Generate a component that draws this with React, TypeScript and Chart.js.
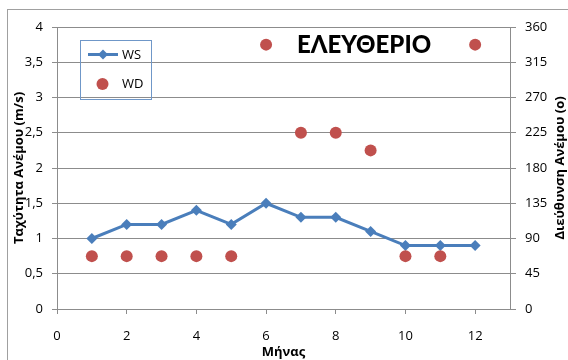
import React, { useEffect, useRef } from "react";
import { Chart, registerables } from "chart.js";

Chart.register(...registerables);

const months = [1, 2, 3, 4, 5, 6, 7, 8, 9, 10, 11, 12];
const wsValues = [1, 1.2, 1.2, 1.4, 1.2, 1.5, 1.3, 1.3, 1.1, 0.9, 0.9, 0.9];
const wdValues = [67.5, 67.5, 67.5, 67.5, 67.5, 337.5, 225, 225, 202.5, 67.5, 67.5, 337.5];
const leftTickLabels = ["0", "0,5", "1", "1,5", "2", "2,5", "3", "3,5", "4"];
const rightTickLabels = ["0", "45", "90", "135", "180", "225", "270", "315", "360"];
const xTickLabels = ["0", "2", "4", "6", "8", "10", "12"];

const chartTitle = "ΕΛΕΥΘΕΡΙΟ";
const xTitle = "Μήνας";
const leftTitle = "Ταχύτητα Ανέμου (m/s)";
const rightTitle = "Διεύθυνση Ανέμου (ο)";
const seriesNames = ["WS", "WD"];

const BLUE = "#4A7EBB";
const RED = "#C0504D";
const GRID = "#8c8c8c";
const FONT = "'Open Sans', sans-serif";

const decorPlugin = {
  id: "decor",
  beforeDraw(chart: any) {
    const ctx = chart.ctx;
    ctx.save();
    ctx.strokeStyle = "#a0a0a0";
    ctx.lineWidth = 1;
    ctx.strokeRect(7.5, 9.5, 700, 500);
    ctx.restore();
  },
  afterDraw(chart: any) {
    const ctx = chart.ctx;
    const area = chart.chartArea;
    ctx.save();
    // main title
    ctx.fillStyle = "#000";
    ctx.font = "900 24px Lato, sans-serif";
    ctx.textAlign = "left";
    ctx.textBaseline = "alphabetic";
    ctx.fillText(chartTitle, 297, 53);

    // right axis title (reads bottom to top)
    ctx.save();
    ctx.translate(560, (area.top + area.bottom) / 2);
    ctx.rotate(-Math.PI / 2);
    ctx.font = "bold 13px " + FONT;
    ctx.textAlign = "center";
    ctx.textBaseline = "middle";
    ctx.fillText(rightTitle, 0, 0);
    ctx.restore();

    // legend
    ctx.strokeStyle = "#6f97c8";
    ctx.lineWidth = 1;
    ctx.strokeRect(80.5, 40.5, 71, 59);
    ctx.strokeStyle = BLUE;
    ctx.lineWidth = 3;
    ctx.beginPath();
    ctx.moveTo(88, 54.5);
    ctx.lineTo(118, 54.5);
    ctx.stroke();
    ctx.fillStyle = BLUE;
    ctx.beginPath();
    const r = 5;
    ctx.moveTo(103, 54.5 - r);
    ctx.lineTo(103 + r, 54.5);
    ctx.lineTo(103, 54.5 + r);
    ctx.lineTo(103 - r, 54.5);
    ctx.closePath();
    ctx.fill();
    ctx.fillStyle = RED;
    ctx.beginPath();
    ctx.arc(102.5, 84, 6, 0, Math.PI * 2);
    ctx.fill();
    ctx.fillStyle = "#000";
    ctx.font = "13px " + FONT;
    ctx.textAlign = "left";
    ctx.textBaseline = "middle";
    ctx.fillText(seriesNames[0], 122, 55);
    ctx.fillText(seriesNames[1], 122, 84);
    ctx.restore();
  },
};

export default function App() {
  const ref = useRef<HTMLCanvasElement>(null);
  useEffect(() => {
    if (!ref.current) return;
    const chart = new Chart(ref.current, {
      type: "scatter",
      data: {
        datasets: [
          {
            label: seriesNames[0],
            data: months.map((m, i) => ({ x: m, y: wsValues[i] })),
            showLine: true,
            borderColor: BLUE,
            backgroundColor: BLUE,
            borderWidth: 3,
            pointStyle: "rectRot",
            pointRadius: 5.5,
            pointBorderWidth: 0,
            yAxisID: "y",
            order: 2,
          },
          {
            label: seriesNames[1],
            data: months.map((m, i) => ({ x: m, y: wdValues[i] })),
            showLine: false,
            borderColor: RED,
            backgroundColor: RED,
            pointStyle: "circle",
            pointRadius: 6,
            pointBorderWidth: 0,
            yAxisID: "y2",
            order: 1,
          },
        ],
      },
      options: {
        responsive: false,
        animation: false,
        layout: { padding: { top: 27, left: 0, right: 0, bottom: 0 } },
        plugins: { legend: { display: false }, tooltip: { enabled: false } },
        scales: {
          x: {
            type: "linear",
            min: 0,
            max: 13,
            grid: { drawOnChartArea: false, drawTicks: true, tickLength: 5, color: GRID },
            border: { display: true, color: GRID },
            ticks: {
              stepSize: 2,
              includeBounds: false,
              padding: 14,
              color: "#000",
              font: { family: FONT, size: 13 },
              callback: (_v: any, i: number) => xTickLabels[i],
            },
            title: {
              display: true,
              text: xTitle,
              color: "#000",
              font: { family: FONT, size: 13, weight: "bold" },
              padding: { top: 0, bottom: 0 },
            },
            afterFit: (s: any) => {
              s.height = 51;
            },
          },
          y: {
            type: "linear",
            position: "left",
            min: 0,
            max: 4,
            grid: { color: GRID, tickLength: 5 },
            border: { display: true, color: GRID },
            ticks: {
              stepSize: 0.5,
              padding: 9,
              color: "#000",
              font: { family: FONT, size: 13 },
              callback: (_v: any, i: number) => leftTickLabels[i],
            },
            title: {
              display: true,
              text: leftTitle,
              color: "#000",
              font: { family: FONT, size: 13, weight: "bold" },
              padding: { top: 11, bottom: 0 },
            },
            afterFit: (s: any) => {
              s.width = 57;
            },
          },
          y2: {
            type: "linear",
            position: "right",
            min: 0,
            max: 360,
            grid: { drawOnChartArea: false, color: GRID, tickLength: 6 },
            border: { display: true, color: GRID },
            ticks: {
              stepSize: 45,
              padding: 9,
              color: "#000",
              font: { family: FONT, size: 13 },
              callback: (_v: any, i: number) => rightTickLabels[i],
            },
            afterFit: (s: any) => {
              s.width = 58;
            },
          },
        },
      },
      plugins: [decorPlugin],
    } as any);
    return () => chart.destroy();
  }, []);
  return (
    <div style={{ position: "fixed", left: 0, top: 0, width: 568, height: 360, background: "#fff" }}>
      <canvas ref={ref} width={568} height={360} style={{ display: "block" }} />
    </div>
  );
}
